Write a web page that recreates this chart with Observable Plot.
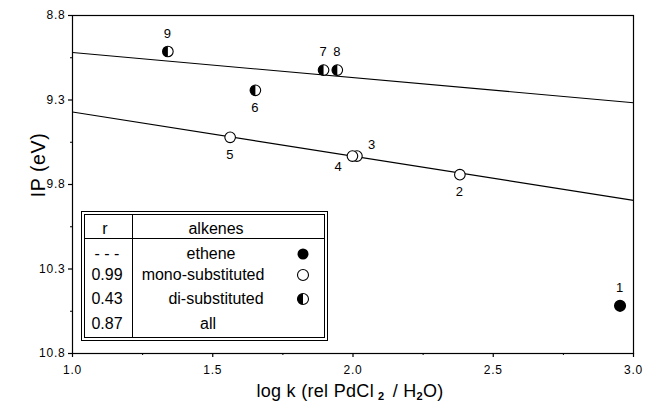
<!DOCTYPE html>
<html><head><meta charset="utf-8">
<script src="https://cdn.jsdelivr.net/npm/d3@7"></script>
<script src="https://cdn.jsdelivr.net/npm/@observablehq/plot@0.6"></script>
<style>
body{margin:0;background:#fff;}
#wrap{position:relative;width:645px;height:411px;font-family:"Liberation Sans",Arial,Helvetica,sans-serif;}
#legend{position:absolute;left:81px;top:211px;width:247px;height:130px;box-sizing:border-box;border:4px double #000;background:#fff;font-size:16px;color:#000;}
#legend .t{position:absolute;transform:translate(-50%,-50%);white-space:nowrap;line-height:1;}
#legend .hsep{position:absolute;left:0;right:0;top:23px;height:0;border-top:1.5px solid #000;}
#legend .vsep{position:absolute;top:0;bottom:0;left:47px;width:0;border-left:1.2px solid #000;}
#legend svg{position:absolute;overflow:visible;}
</style></head>
<body>
<div id="wrap"></div>
<script>
// ---- data ----
const pointLabels = ["1","2","3","4","5","6","7","8","9"];
const logK = [2.952, 2.381, 2.014, 1.998, 1.562, 1.652, 1.895, 1.944, 1.340];
const ipEV = [10.518, 9.742, 9.632, 9.632, 9.521, 9.243, 9.123, 9.123, 9.013];
const alkeneType = ["ethene","mono","mono","mono","mono","di","di","di","di"];

const lineLogK = [1.0, 3.0];
const upperLineIP = [9.019, 9.316];
const lowerLineIP = [9.371, 9.894];

const xMajorTicks = [1.0, 1.5, 2.0, 2.5, 3.0];
const xMinorTicks = [1.25, 1.75, 2.25, 2.75];
const yMajorTicks = [8.8, 9.3, 9.8, 10.3, 10.8];
const yMinorTicks = [9.05, 9.55, 10.05, 10.55];

const legendR = ["- - -", "0.99", "0.43", "0.87"];
const legendNames = ["ethene", "mono-substituted", "di-substituted", "all"];
const legendTypes = ["ethene", "mono", "di", null];

// ---- build ----
const pts = pointLabels.map((l, i) => ({label: l, x: logK[i], y: ipEV[i], type: alkeneType[i]}));
const upper = lineLogK.map((x, i) => ({x, y: upperLineIP[i]}));
const lower = lineLogK.map((x, i) => ({x, y: lowerLineIP[i]}));

const halfLeft = {draw(ctx, size) {
  const r = Math.sqrt(size / Math.PI);
  ctx.moveTo(0, -r);
  ctx.arc(0, 0, r, -Math.PI / 2, Math.PI / 2, true);
  ctx.closePath();
}};

const placement = {"1": "above", "2": "below", "3": "upright", "4": "downleft", "5": "below",
                   "6": "below", "7": "above", "8": "above", "9": "above"};
const byPlace = p => pts.filter(d => placement[d.label] === p);
const R = 5.3;

const font = '"Liberation Sans",Arial,Helvetica,sans-serif';
const chart = Plot.plot({
  width: 645, height: 411,
  marginLeft: 72, marginRight: 12, marginTop: 15, marginBottom: 58,
  style: {fontFamily: font, fontSize: "12px", color: "black", background: "white", letterSpacing: "0.8px"},
  x: {domain: [1, 3]},
  y: {domain: [8.8, 10.8], reverse: true},
  marks: [
    Plot.axisX({ticks: xMajorTicks, tickSize: 4, tickPadding: 8, tickFormat: d => d.toFixed(1), label: null, strokeWidth: 1.2}),
    Plot.axisX({ticks: xMinorTicks, tickSize: 2, tickFormat: () => "", label: null}),
    Plot.axisY({ticks: yMajorTicks, tickSize: 4, tickPadding: 3, tickFormat: d => d.toFixed(1), label: null, strokeWidth: 1.2}),
    Plot.axisY({ticks: yMinorTicks, tickSize: 2, tickFormat: () => "", label: null}),
    Plot.frame({stroke: "black", strokeWidth: 1.2}),
    Plot.line(upper, {x: "x", y: "y", stroke: "black", strokeWidth: 1.1}),
    Plot.line(lower, {x: "x", y: "y", stroke: "black", strokeWidth: 1.1}),
    Plot.dot(pts.filter(d => d.type === "ethene"), {x: "x", y: "y", r: R, fill: "black", stroke: "black"}),
    Plot.dot(pts.filter(d => d.type !== "ethene"), {x: "x", y: "y", r: R, fill: "white", stroke: "black", strokeWidth: 1.1}),
    Plot.dot(pts.filter(d => d.type === "di"), {x: "x", y: "y", r: R, symbol: halfLeft, fill: "black"}),
    Plot.text(byPlace("above"), {x: "x", y: "y", text: "label", dy: -18, fontSize: 13}),
    Plot.text(byPlace("below"), {x: "x", y: "y", text: "label", dy: 17, fontSize: 13}),
    Plot.text(byPlace("upright"), {x: "x", y: "y", text: "label", dx: 15, dy: -11, fontSize: 13}),
    Plot.text(byPlace("downleft"), {x: "x", y: "y", text: "label", dx: -14, dy: 11, fontSize: 13})
  ]
});

// axis titles
const svg = d3.select(chart);
svg.append("text")
  .attr("transform", "translate(45,165) rotate(-90)")
  .attr("text-anchor", "middle")
  .attr("font-size", 19.5).attr("letter-spacing", "0.6px").attr("fill", "black")
  .text("IP (eV)");
const xt = svg.append("text")
  .attr("x", 350).attr("y", 397)
  .attr("text-anchor", "middle")
  .attr("font-size", 18).attr("letter-spacing", "0.3px").attr("fill", "black");
xt.append("tspan").text("log k (rel PdCl");
xt.append("tspan").attr("dx", 4).attr("dy", 3).attr("font-size", 11).attr("font-weight", "bold").text("2");
xt.append("tspan").attr("dx", 3).attr("dy", -3).text(" / H");
xt.append("tspan").attr("dy", 3).attr("font-size", 11).attr("font-weight", "bold").text("2");
xt.append("tspan").attr("dy", -3).text("O)");

const wrap = document.getElementById("wrap");
wrap.appendChild(chart);

// legend table
const lg = document.createElement("div");
lg.id = "legend";
wrap.appendChild(lg);
function addText(txt, cx, cy) {
  const s = document.createElement("span");
  s.className = "t"; s.textContent = txt;
  s.style.left = cx + "px"; s.style.top = cy + "px";
  lg.appendChild(s);
}
lg.insertAdjacentHTML("beforeend", '<div class="hsep"></div><div class="vsep"></div>');
addText("r", 20, 14);
addText("alkenes", 131, 14);
const rowY = [39, 60, 84, 109];
const nameX = [126, 118, 131, 123];
legendR.forEach((r, i) => addText(r, 22, rowY[i]));
legendNames.forEach((n, i) => addText(n, nameX[i], rowY[i]));
legendTypes.forEach((t, i) => {
  if (!t) return;
  const cx = 218, cy = rowY[i], r = 5.5;
  const ns = "http://www.w3.org/2000/svg";
  const s = document.createElementNS(ns, "svg");
  s.setAttribute("width", 14); s.setAttribute("height", 14);
  s.style.left = (cx - 7) + "px"; s.style.top = (cy - 7) + "px";
  let inner = "";
  if (t === "ethene") inner = `<circle cx="7" cy="7" r="${r}" fill="black"/>`;
  else if (t === "mono") inner = `<circle cx="7" cy="7" r="${r}" fill="white" stroke="black" stroke-width="1.1"/>`;
  else inner = `<circle cx="7" cy="7" r="${r}" fill="white" stroke="black" stroke-width="1.1"/><path d="M7,${7 - r} A${r},${r} 0 0 0 7,${7 + r} Z" fill="black"/>`;
  s.innerHTML = inner;
  lg.appendChild(s);
});
</script>
</body></html>
